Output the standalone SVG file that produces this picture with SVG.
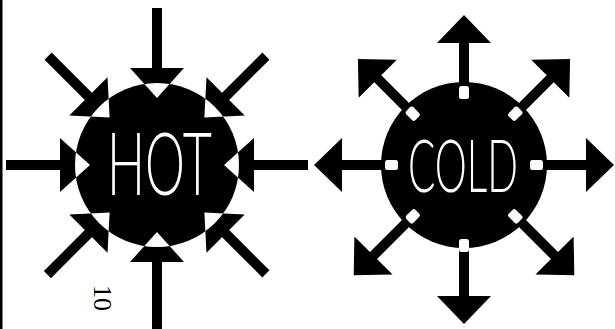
<svg xmlns="http://www.w3.org/2000/svg" xmlns:xlink="http://www.w3.org/1999/xlink" width="615" height="329" viewBox="0 0 615 329">
  <style>
    .shaft { stroke: #000; stroke-width: 10; stroke-linecap: butt; fill: none; }
    .ink { fill: #000; }
    .white { fill: #fff; }
    .label { fill: #fff; font-family: Lato, "DejaVu Sans", sans-serif; font-weight: 300; }
    .page { fill: #000; font-family: "Liberation Serif", serif; }
  </style>
  <defs>
    <polygon id="hotHead" points="130,68 184,68 157,98"/>
    <polygon id="coldHead" points="437,43 491,43 464,15"/>
    <rect id="coldMark" x="459" y="86" width="10" height="13" rx="2.5"/>
    <clipPath id="hotClip"><circle cx="157" cy="165" r="82"/></clipPath>
  </defs>
  <rect width="615" height="329" fill="#fff"/>
  <rect x="0" y="0" width="2.5" height="329" class="ink"/>

  <g id="connectors">
    <g id="hot-arrows">
      <g transform="rotate(0 157 165)"><line class="shaft" x1="157" y1="8" x2="157" y2="69"/><use xlink:href="#hotHead" class="ink"/></g>
      <g transform="rotate(45 157 165)"><line class="shaft" x1="157" y1="11" x2="157" y2="69"/><use xlink:href="#hotHead" class="ink"/></g>
      <g transform="rotate(90 157 165)"><line class="shaft" x1="157" y1="14" x2="157" y2="69"/><use xlink:href="#hotHead" class="ink"/></g>
      <g transform="rotate(135 157 165)"><line class="shaft" x1="157" y1="11" x2="157" y2="69"/><use xlink:href="#hotHead" class="ink"/></g>
      <g transform="rotate(180 157 165)"><line class="shaft" x1="157" y1="0" x2="157" y2="69"/><use xlink:href="#hotHead" class="ink"/></g>
      <g transform="rotate(225 157 165)"><line class="shaft" x1="157" y1="10" x2="157" y2="69"/><use xlink:href="#hotHead" class="ink"/></g>
      <g transform="rotate(270 157 165)"><line class="shaft" x1="157" y1="14" x2="157" y2="69"/><use xlink:href="#hotHead" class="ink"/></g>
      <g transform="rotate(315 157 165)"><line class="shaft" x1="157" y1="11" x2="157" y2="69"/><use xlink:href="#hotHead" class="ink"/></g>
    </g>
    <g id="cold-arrows">
      <g transform="rotate(0 464 165)"><line class="shaft" x1="464" y1="95" x2="464" y2="42"/><use xlink:href="#coldHead" class="ink"/></g>
      <g transform="rotate(45 464 165)"><line class="shaft" x1="464" y1="95" x2="464" y2="42"/><use xlink:href="#coldHead" class="ink"/></g>
      <g transform="rotate(90 464 165)"><line class="shaft" x1="464" y1="95" x2="464" y2="42"/><use xlink:href="#coldHead" class="ink"/></g>
      <g transform="rotate(135 464 165) translate(0 -6)"><line class="shaft" x1="464" y1="95" x2="464" y2="42"/><use xlink:href="#coldHead" class="ink"/></g>
      <g transform="rotate(180 464 165) translate(0 -9)"><line class="shaft" x1="464" y1="95" x2="464" y2="42"/><use xlink:href="#coldHead" class="ink"/></g>
      <g transform="rotate(225 464 165) translate(0 -6)"><line class="shaft" x1="464" y1="95" x2="464" y2="42"/><use xlink:href="#coldHead" class="ink"/></g>
      <g transform="rotate(270 464 165)"><line class="shaft" x1="464" y1="95" x2="464" y2="42"/><use xlink:href="#coldHead" class="ink"/></g>
      <g transform="rotate(315 464 165)"><line class="shaft" x1="464" y1="95" x2="464" y2="42"/><use xlink:href="#coldHead" class="ink"/></g>
    </g>
  </g>

  <g id="hot">
    <circle cx="157" cy="165" r="82" class="ink"/>
    <g clip-path="url(#hotClip)" class="white">
      <use xlink:href="#hotHead" transform="rotate(0 157 165)"/>
      <use xlink:href="#hotHead" transform="rotate(45 157 165)"/>
      <use xlink:href="#hotHead" transform="rotate(90 157 165)"/>
      <use xlink:href="#hotHead" transform="rotate(135 157 165)"/>
      <use xlink:href="#hotHead" transform="rotate(180 157 165)"/>
      <use xlink:href="#hotHead" transform="rotate(225 157 165)"/>
      <use xlink:href="#hotHead" transform="rotate(270 157 165)"/>
      <use xlink:href="#hotHead" transform="rotate(315 157 165)"/>
    </g>
    <text class="label" x="107" y="195" font-size="86" textLength="105" lengthAdjust="spacingAndGlyphs">HOT</text>
  </g>

  <g id="cold">
    <circle cx="464" cy="165" r="83" class="ink"/>
    <g class="white">
      <use xlink:href="#coldMark" transform="rotate(0 464 165)"/>
      <use xlink:href="#coldMark" transform="rotate(45 464 165)"/>
      <use xlink:href="#coldMark" transform="rotate(90 464 165)"/>
      <use xlink:href="#coldMark" transform="rotate(135 464 165)"/>
      <use xlink:href="#coldMark" transform="rotate(180 464 165) translate(0 -8)"/>
      <use xlink:href="#coldMark" transform="rotate(225 464 165)"/>
      <use xlink:href="#coldMark" transform="rotate(270 464 165)"/>
      <use xlink:href="#coldMark" transform="rotate(315 464 165)"/>
    </g>
    <text class="label" x="408" y="192" font-size="72" textLength="110" lengthAdjust="spacingAndGlyphs">COLD</text>
  </g>

  <text class="page" font-size="26" transform="translate(94 285) rotate(90)">10</text>
</svg>
